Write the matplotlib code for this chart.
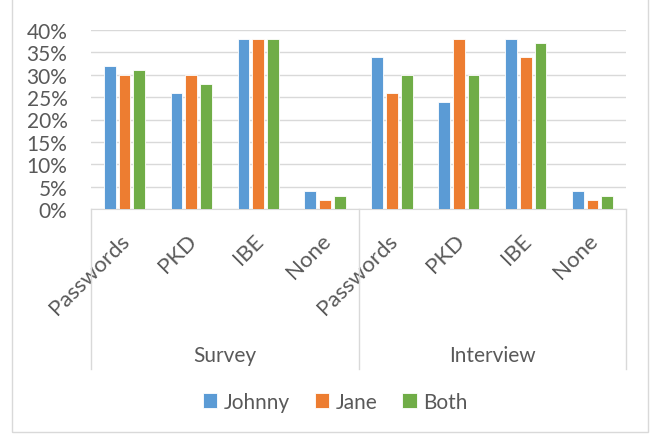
import matplotlib
matplotlib.use('Agg')
import matplotlib.pyplot as plt
import numpy as np
from matplotlib.patches import Rectangle

plt.rcParams['font.family'] = ['Lato', 'DejaVu Sans']

groups = ['Survey', 'Interview']
methods = ['Passwords', 'PKD', 'IBE', 'None']
series = ['Johnny', 'Jane', 'Both']
johnny = [32, 26, 38, 4, 34, 24, 38, 4]
jane = [30, 30, 38, 2, 26, 38, 34, 2]
both = [31, 28, 38, 3, 30, 30, 37, 3]
colors = ['#5B9BD5', '#ED7D31', '#70AD47']
text_color = '#595959'
grid_color = '#D9D9D9'

fig = plt.figure(figsize=(6.54, 4.35), dpi=100)
fig.patches.append(Rectangle((12 / 654, 2 / 435), 636 / 654, 1.0, transform=fig.transFigure,
                             fill=False, edgecolor=grid_color, lw=1))
ax = fig.add_axes([91 / 654, 1 - 210 / 435, 535 / 654, 179 / 435])

x = np.arange(len(johnny))
w = 0.175
off = 0.22
for i, (vals, name) in enumerate(zip([johnny, jane, both], series)):
    ax.bar(x + (i - 1) * off, np.array(vals) / 100, w, color=colors[i], label=name,
           edgecolor='white', linewidth=0.6, zorder=3)

ax.set_xlim(-0.5, len(x) - 0.5)
ax.set_ylim(0, 0.4)
yt = np.arange(0, 0.41, 0.05)
ax.set_yticks(yt)
ax.set_yticklabels([f'{int(round(v * 100))}%' for v in yt], fontsize=15, color=text_color)
ax.yaxis.grid(True, color=grid_color, lw=1, zorder=0)
ax.tick_params(axis='y', length=0, pad=17)
for s in ['top', 'right', 'left']:
    ax.spines[s].set_visible(False)
ax.spines['bottom'].set_color(grid_color)

ax.set_xticks(x - 0.07)
ax.set_xticklabels(methods * 2, rotation=45, ha='right', rotation_mode='anchor',
                   fontsize=16, color=text_color)
ax.tick_params(axis='x', length=0, pad=15)

# group separators and labels
trans = ax.get_xaxis_transform()
for xs in [-0.5, 3.5, 7.5]:
    ax.plot([xs, xs], [0, -160 / 179], color=grid_color, lw=1, clip_on=False, transform=trans)
for gi, g in enumerate(groups):
    ax.text(gi * 4 + 1.5, -146 / 179, g, ha='center', va='center', fontsize=15,
            color=text_color, transform=trans)

fig.legend(loc='center', bbox_to_anchor=(335 / 654, 1 - 403 / 435), ncol=3, frameon=False,
           fontsize=15, handlelength=0.7, handleheight=0.7, handletextpad=0.3,
           columnspacing=1.2, labelcolor=text_color)

fig.savefig('out.png', dpi=100)
